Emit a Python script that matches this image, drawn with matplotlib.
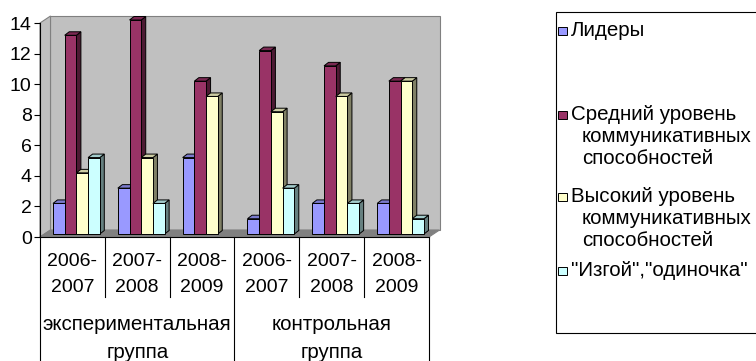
import numpy as np
import matplotlib
matplotlib.use("Agg")
import matplotlib.pyplot as plt
from matplotlib.patches import Polygon, Rectangle

plt.rcParams['font.family'] = ['Liberation Sans', 'DejaVu Sans']

# Data
years = ["2006-\n2007", "2007-\n2008", "2008-\n2009",
         "2006-\n2007", "2007-\n2008", "2008-\n2009"]
groups = ["экспериментальная\nгруппа", "контрольная\nгруппа"]
series_names = ["Лидеры",
                "Средний уровень\nкоммуникативных\nспособностей",
                "Высокий уровень\nкоммуникативных\nспособностей",
                "\"Изгой\",\"одиночка\""]
leaders = [2, 3, 5, 1, 2, 2]
medium = [13, 14, 10, 12, 11, 10]
high = [4, 5, 9, 8, 9, 10]
outcasts = [5, 2, 0, 3, 2, 1]
yticks = [0, 2, 4, 6, 8, 10, 12, 14]

front_colors = ["#9999FF", "#993366", "#FFFFCC", "#CCFFFF"]
top_colors = ["#7A7ACC", "#7A2952", "#CCCCA3", "#A3CCCC"]
side_colors = ["#4D4D80", "#4D1A33", "#808066", "#668080"]

W, H = 756, 361
fig = plt.figure(figsize=(W / 100, H / 100), dpi=100)

# plot area in pixels: front face of the 3D box
left_px, right_px, top_px, bottom_px = 40, 429, 23, 237
ax = fig.add_axes([left_px / W, (H - bottom_px) / H,
                   (right_px - left_px) / W, (bottom_px - top_px) / H])
n_cat = len(years)
ymax = 14
ax.set_xlim(-0.5, n_cat - 0.5)
ax.set_ylim(0, ymax)

# data units per pixel
px_x = n_cat / (right_px - left_px)
px_y = ymax / (bottom_px - top_px)

# walls of the 3D box
DX, DY = 10.5 * px_x, 7 * px_y
x0, x1 = -0.5, n_cat - 0.5
ax.add_patch(Rectangle((x0 + DX, DY), x1 - x0, ymax, facecolor="#C0C0C0",
                       edgecolor="#808080", lw=0.8, clip_on=False, zorder=0))
ax.add_patch(Polygon([(x0, 0), (x0 + DX, DY), (x0 + DX, ymax + DY), (x0, ymax)],
                     facecolor="#C0C0C0", edgecolor="#808080", lw=0.8,
                     clip_on=False, zorder=0))
ax.add_patch(Polygon([(x0, 0), (x1, 0), (x1 + DX, DY), (x0 + DX, DY)],
                     facecolor="#808080", edgecolor="#808080", lw=0.8,
                     clip_on=False, zorder=1))

# 3D bars
BW = 11.7 * px_x
bar_shift = 13 * px_x
BZ = 3 * px_y
TX, TY = 4.5 * px_x, 3.5 * px_y
all_series = [leaders, medium, high, outcasts]
cats = np.arange(n_cat)
for j, vals in enumerate(all_series):
    vals = np.array(vals, dtype=float)
    xl = cats - 0.5 + bar_shift + j * BW
    mask = vals > 0
    z = 3 + 3 * j
    for x, v in zip(xl[mask], vals[mask]):
        top = BZ + v
        ax.add_patch(Polygon([(x + BW, BZ), (x + BW + TX, BZ + TY),
                              (x + BW + TX, top + TY), (x + BW, top)],
                             facecolor=side_colors[j], edgecolor="black",
                             lw=0.7, clip_on=False, zorder=z))
        ax.add_patch(Polygon([(x, top), (x + BW, top), (x + BW + TX, top + TY),
                              (x + TX, top + TY)],
                             facecolor=top_colors[j], edgecolor="black",
                             lw=0.7, clip_on=False, zorder=z + 1))
    ax.bar(xl[mask], vals[mask], width=BW, bottom=BZ, align='edge',
           color=front_colors[j], edgecolor="black", lw=0.7, zorder=z + 2,
           clip_on=False)

# axes styling
for s in ["top", "right"]:
    ax.spines[s].set_visible(False)
ax.spines["left"].set_color("black")
ax.spines["bottom"].set_color("black")
ax.spines["left"].set_zorder(30)
ax.spines["bottom"].set_zorder(30)
ax.set_yticks(yticks)
ax.set_yticklabels([str(t) for t in yticks], fontsize=14)
ax.tick_params(axis='y', direction='out', length=4, width=0.8, pad=2)
ax.set_xticks([])
ax.patch.set_visible(False)

# category table below the plot
trans = ax.get_xaxis_transform()
def ax_y(py):
    return (bottom_px - py) / (bottom_px - top_px)

y_year_bottom = ax_y(297)
y_table_bottom = ax_y(H + 2)
for b in np.arange(n_cat + 1) - 0.5:
    full = b in (-0.5, 2.5, n_cat - 0.5)
    ax.plot([b, b], [0, y_table_bottom if full else y_year_bottom],
            color="black", lw=0.8, transform=trans, clip_on=False)

for i, lbl in enumerate(years):
    for k, line in enumerate(lbl.split("\n")):
        ax.text(i, ax_y(261.5 + 26 * k), line, transform=trans, ha='center',
                va='center', fontsize=14)

for g, lbl in enumerate(groups):
    for k, line in enumerate(lbl.split("\n")):
        ax.text(1 + 3 * g, ax_y(324 + 28.5 * k), line, transform=trans,
                ha='center', va='center', fontsize=14.8)

# legend box drawn on the figure
fig.patches.append(Rectangle((556 / W, (H - 333) / H), (770 - 556) / W,
                             (333 - 12) / H, transform=fig.transFigure,
                             facecolor="white", edgecolor="black", lw=0.8))
first_lines = [31, 115, 197, 271]
for j, name in enumerate(series_names):
    cy = first_lines[j]
    fig.patches.append(Rectangle((558 / W, (H - cy - 4.2) / H), 8.5 / W, 8.5 / H,
                                 transform=fig.transFigure,
                                 facecolor=front_colors[j], edgecolor="black",
                                 lw=0.7))
    for k, line in enumerate(name.split("\n")):
        x = 571 if k == 0 else 582
        fig.text(x / W, (H - (cy + 21.5 * k)) / H, line, ha='left',
                 va='center', fontsize=14.8)

plt.savefig("out.png", dpi=100)
